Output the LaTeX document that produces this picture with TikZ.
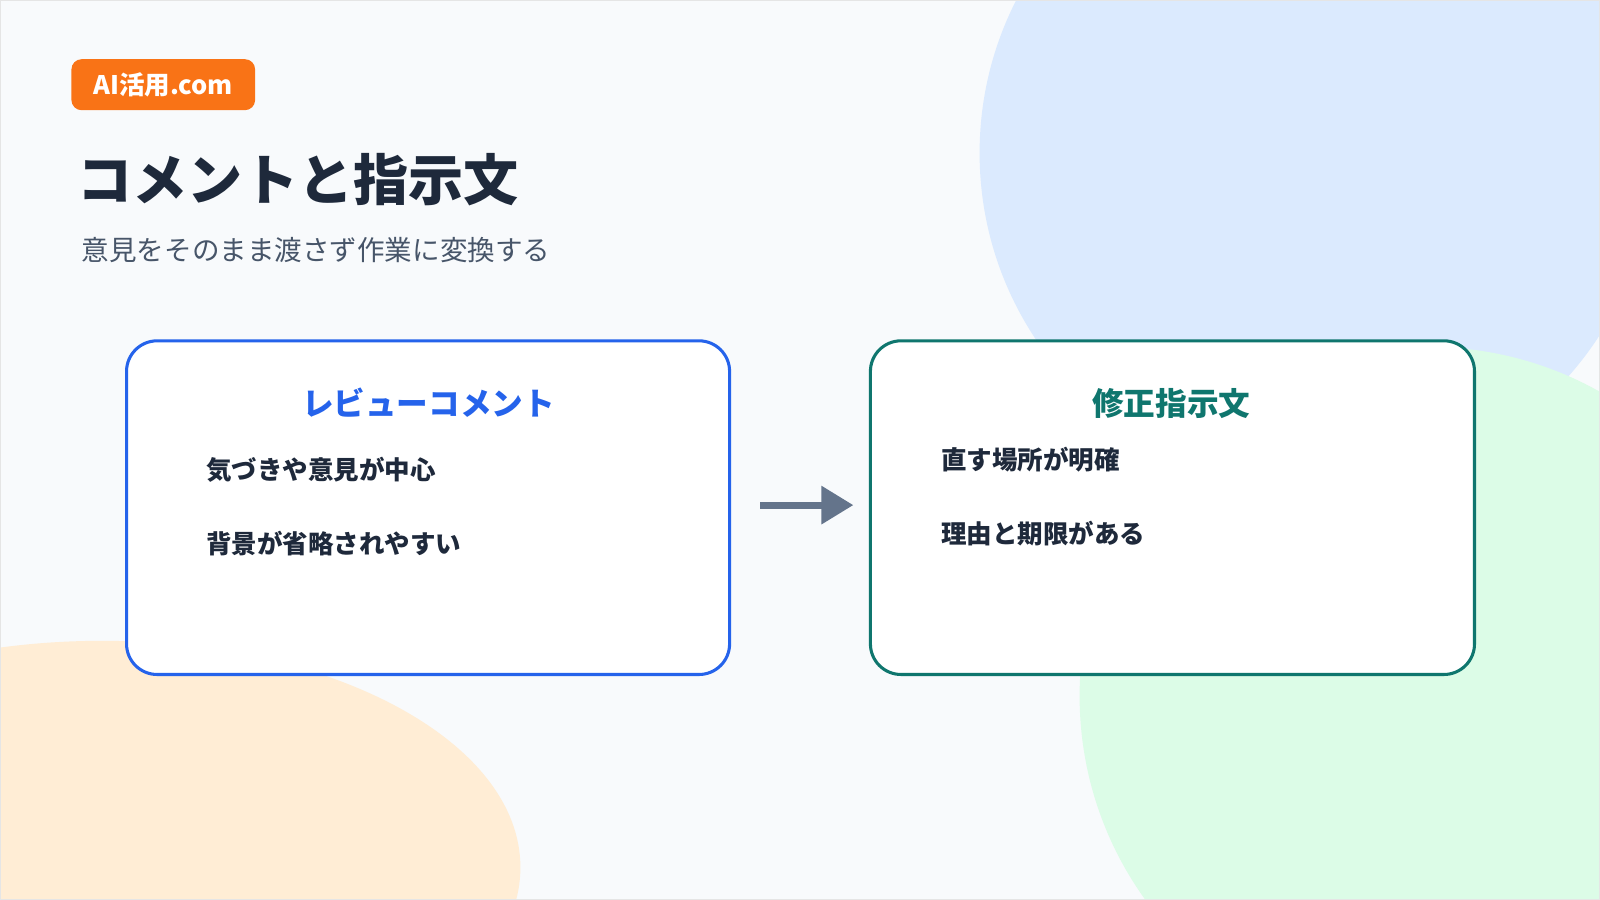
\documentclass[tikz,border=0pt]{standalone}
\usepackage{fontspec}
\setmainfont{Noto Sans CJK JP}
\newfontfamily\cjkb{Noto Sans CJK JP}[BoldFont={* Bold}]
\definecolor{bg}{HTML}{F8FAFC}
\definecolor{cblue}{HTML}{DBEAFE}
\definecolor{cgreen}{HTML}{DCFCE7}
\definecolor{corange}{HTML}{FFEDD5}
\definecolor{badge}{HTML}{F97316}
\definecolor{ink}{HTML}{1E293B}
\definecolor{sub}{HTML}{475569}
\definecolor{bblue}{HTML}{2563EB}
\definecolor{bgreen}{HTML}{0F766E}
\definecolor{arr}{HTML}{64748B}
\begin{document}
\begin{tikzpicture}[x=1pt,y=-1pt,
  box/.style={draw,line width=3pt,rounded corners=30pt,fill=white},
  item/.style={anchor=west,font=\fontsize{25}{30}\selectfont\bfseries,text=ink,inner sep=0pt}]
\useasboundingbox (0,0) rectangle (1568,882);
\begin{scope}
\clip (0,0) rectangle (1568,882);
\fill[bg] (0,0) rectangle (1568,882);
\fill[cblue] (1290,150) circle (330);
\fill[cgreen] (1400,682) circle (342);
\fill[corange] (100,850) ellipse [x radius=410, y radius=222];
\end{scope}
\draw[black!10,line width=1pt] (0.5,0.5) rectangle (1567.5,881.5);
\node[fill=badge,rounded corners=10pt,minimum width=180pt,minimum height=50pt,text=white,font=\fontsize{25}{30}\selectfont\bfseries,inner sep=0pt] (badge) at (160,83) {AI活用.com};
\node[anchor=west,inner sep=0pt,text=ink,font=\fontsize{54}{60}\selectfont\bfseries] (title) at (76,176) {コメントと指示文};
\node[anchor=west,inner sep=0pt,text=sub,font=\fontsize{27}{32}\selectfont] (subtitle) at (80,245) {意見をそのまま渡さず作業に変換する};
\node[box,draw=bblue,minimum width=591pt,minimum height=327pt] (L) at (419.5,497.5) {};
\node[box,draw=bgreen,minimum width=592pt,minimum height=327pt] (R) at (1149,497.5) {};
\node[text=bblue,font=\fontsize{31}{36}\selectfont\bfseries,inner sep=0pt] (lt) at (420,395) {レビューコメント};
\node[text=bgreen,font=\fontsize{31}{36}\selectfont\bfseries,inner sep=0pt] (rt) at (1148,395) {修正指示文};
\node[item] (l1) at (202,460) {気づきや意見が中心};
\node[item] (l2) at (202,533) {背景が省略されやすい};
\node[item] (r1) at (922,450) {直す場所が明確};
\node[item] (r2) at (922,523) {理由と期限がある};
\coordinate (a1) at (745,495);
\coordinate (a2) at (806,495);
\draw[arr,line width=7pt] (a1) -- (a2);
\fill[arr] (805,476) -- (836,495) -- (805,514) -- cycle;
\end{tikzpicture}
\end{document}
